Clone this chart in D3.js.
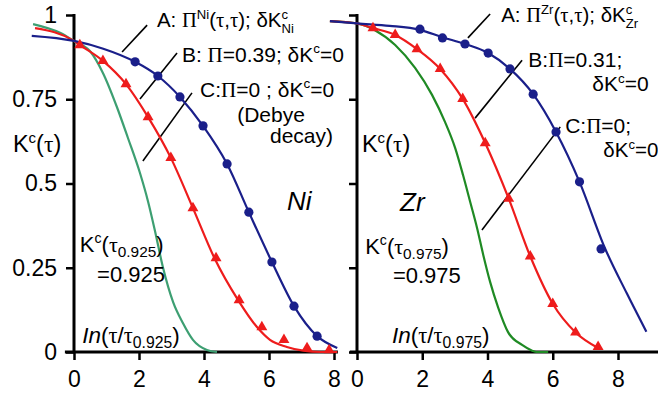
<!DOCTYPE html>
<html>
<head>
<script src="https://cdnjs.cloudflare.com/ajax/libs/d3/7.8.5/d3.min.js"></script>
<style>
  body { margin: 0; padding: 0; background: #fff; }
  svg text { font-family: "Liberation Sans", Arial, sans-serif; fill: #000; }
  .sym { font-family: "Liberation Serif", "Times New Roman", serif; }
</style>
</head>
<body>
<svg id="chart" width="658" height="396"></svg>
<script>
const xTicks = [0, 2, 4, 6, 8];
const yTicks = [0, 0.25, 0.5, 0.75, 1];

// Ni panel, [ln(tau/tau_0.925), K]
const niLineA = [[-1.3,0.938],[0,0.923],[0.9,0.900],[1.88,0.861],[2.58,0.819],[3.26,0.757],[3.97,0.671],[4.71,0.558],[5.38,0.415],[6.09,0.267],[6.77,0.136],[7.48,0.047],[8.1,0.012]];
const niDotsA = [[1.88,0.861],[2.58,0.819],[3.26,0.757],[3.97,0.671],[4.71,0.558],[5.38,0.415],[6.09,0.267],[6.77,0.136],[7.48,0.047]];
const niLineB = [[-1.2,0.961],[0,0.923],[0.18,0.911],[0.89,0.864],[1.6,0.795],[2.28,0.697],[2.98,0.576],[3.66,0.427],[4.32,0.279],[5.05,0.154],[5.63,0.074],[6.03,0.036],[6.55,0.015],[7.05,0.004],[7.6,0],[8.1,0]];
const niTriB = [[0.18,0.911],[0.89,0.864],[1.6,0.795],[2.28,0.697],[2.98,0.576],[3.66,0.427],[4.37,0.279],[5.08,0.154],[5.78,0.074],[6.46,0.036],[7.17,0.012],[7.85,0.006]];
const niLineC = [[-1.26,0.973],[-0.43,0.947],[0,0.923],[0.49,0.893],[0.89,0.828],[1.32,0.727],[1.66,0.635],[2.03,0.531],[2.28,0.446],[2.49,0.360],[2.74,0.250],[3.05,0.148],[3.35,0.086],[3.66,0.036],[4.09,0.006],[4.4,0]];

// Zr panel, [ln(tau/tau_0.975), K]
const zrLineA = [[-0.83,0.982],[0,0.975],[1.0,0.968],[1.93,0.956],[2.62,0.934],[3.31,0.914],[4.02,0.887],[4.69,0.840],[5.40,0.765],[6.1,0.653],[6.82,0.505],[7.6,0.308],[8.27,0.174],[8.87,0.06]];
const zrDotsA = [[1.93,0.958],[2.62,0.932],[3.31,0.914],[4.02,0.887],[4.69,0.840],[5.40,0.765],[6.1,0.653],[6.82,0.505],[7.48,0.306]];
const zrLineB = [[-0.83,0.982],[0,0.975],[0.49,0.961],[1.17,0.941],[1.84,0.899],[2.55,0.840],[3.24,0.751],[3.93,0.620],[4.65,0.455],[5.31,0.284],[6.0,0.143],[6.7,0.058],[7.39,0.012]];
const zrTriB = [[0.49,0.961],[1.17,0.941],[1.84,0.899],[2.55,0.840],[3.24,0.751],[3.93,0.620],[4.65,0.455],[5.31,0.284],[6.0,0.143],[6.7,0.058],[7.39,0.015]];
const zrLineC = [[-0.83,0.982],[0,0.975],[0.55,0.955],[1.17,0.911],[1.78,0.843],[2.30,0.763],[2.70,0.682],[3.01,0.605],[3.25,0.525],[3.47,0.445],[3.68,0.368],[3.87,0.288],[4.08,0.208],[4.33,0.131],[4.63,0.059],[5.06,0.021],[5.37,0.004],[5.5,0],[5.86,0]];

const blue = '#1a1f8a', red = '#ee1c1c', greenNi = '#3d9f72', greenZr = '#1f8a24';

const svg = d3.select('#chart');
const y = d3.scaleLinear().domain([0, 1]).range([352, 15]);

const panels = [
  {
    x: d3.scaleLinear().domain([0, 8]).range([74, 334]),
    axisFrom: -0.28, axisTo: 8.12, yLabels: true,
    lines: [[niLineC, greenNi], [niLineB, red], [niLineA, blue]],
    dots: niDotsA, tris: niTriB,
    leaders: [[[1.48,0.890],[2.25,0.970]], [[2.03,0.751],[3.17,0.887]], [[2.12,0.567],[3.63,0.769]]],
    texts: [
      [2.55, 0.964, 20.5, ['A: ', ['Π','g'], ['Ni','sup'], '(', ['τ','g'], ',', ['τ','g'], '); δK', [['c','Ni'],'stack']]],
      [3.32, 0.861, 21, ['B: ', ['Π','g'], '=0.39; δK', ['c','sup'], '=0']],
      [3.88, 0.757, 21, ['C:', ['Π','g'], '=0 ;  δK', ['c','sup'], '=0']],
      [5.02, 0.682, 21, ['(Debye']],
      [6.03, 0.620, 21, ['decay)']],
      [-1.88, 0.593, 23.5, ['K', ['c','sup'], '(', ['τ','g'], ')']],
      [6.55, 0.421, 26, [['Ni','i']]],
      [0.18, 0.297, 22, ['K', ['c','sup'], '(', ['τ','g'], ['0.925','sub'], ')']],
      [0.71, 0.209, 22, ['=0.925']],
      [0.25, 0.027, 22.5, [['In','i'], '(', ['τ','g'], '/', ['τ','g'], ['0.925','sub'], ')']]
    ]
  },
  {
    x: d3.scaleLinear().domain([0, 8]).range([357, 618]),
    axisFrom: -0.22, axisTo: 9.3, yLabels: false,
    lines: [[zrLineC, greenZr], [zrLineB, red], [zrLineA, blue]],
    dots: zrDotsA, tris: zrTriB,
    leaders: [[[3.40,0.932],[4.08,1.003]], [[3.62,0.694],[5.06,0.866]], [[3.83,0.362],[6.23,0.668]]],
    texts: [
      [4.42, 0.979, 20.5, ['A:  ', ['Π','g'], ['Zr','sup'], '(', ['τ','g'], ',', ['τ','g'], '); δK', [['c','Zr'],'stack']]],
      [5.25, 0.846, 21, ['B:', ['Π','g'], '=0.31;']],
      [7.21, 0.774, 21, ['δK', ['c','sup'], '=0']],
      [6.38, 0.650, 21, ['C:', ['Π','g'], '=0;']],
      [7.55, 0.579, 20.5, ['δK', ['c','sup'], '=0']],
      [0.15, 0.593, 23.5, ['K', ['c','sup'], '(', ['τ','g'], ')']],
      [1.32, 0.418, 26, [['Zr','i']]],
      [0.25, 0.29, 22, ['K', ['c','sup'], '(', ['τ','g'], ['0.975','sub'], ')']],
      [1.10, 0.205, 22, ['=0.975']],
      [1.07, 0.027, 22.5, [['In','i'], '(', ['τ','g'], '/', ['τ','g'], ['0.975','sub'], ')']]
    ]
  }
];

// text with sup / sub / stacked sup+sub pieces
function rich(x, yy, size, parts) {
  const t = svg.append('text').attr('x', x).attr('y', yy).attr('font-size', size);
  let shift = 0;
  const piece = (s, dy, fs) => {
    const ts = t.append('tspan').attr('dy', dy - shift).attr('font-size', fs).text(s);
    shift = dy;
    return ts;
  };
  parts.forEach(p => {
    const [s, kind] = typeof p === 'string' ? [p, 'n'] : p;
    if (kind === 'sup') piece(s, -0.4 * size, 0.64 * size);
    else if (kind === 'sub') piece(s, 0.22 * size, 0.7 * size);
    else if (kind === 'stack') {
      const sup = piece(s[0], -0.4 * size, 0.64 * size);
      const w = sup.node().getComputedTextLength();
      piece(s[1], 0.3 * size, 0.64 * size).attr('dx', -w);
    } else {
      const ts = piece(s, 0, size);
      if (kind === 'g') ts.attr('class', 'sym');
      if (kind === 'i') ts.attr('font-style', 'italic');
    }
  });
}

panels.forEach(p => {
  const x = p.x;

  // axes
  const ya = svg.append('g')
    .attr('transform', `translate(${x(0)},0)`)
    .call(d3.axisLeft(y).tickValues(yTicks).tickSize(8).tickSizeOuter(0).tickPadding(9)
      .tickFormat(p.yLabels ? d => d : () => ''));
  const xa = svg.append('g')
    .attr('transform', `translate(0,${y(0)})`)
    .call(d3.axisBottom(x).tickValues(xTicks).tickSize(8).tickSizeOuter(0).tickPadding(11));
  [ya, xa].forEach(a => {
    a.select('.domain').remove();
    a.selectAll('.tick line').attr('stroke', '#000').attr('stroke-width', 2.5);
    a.selectAll('.tick text').attr('font-size', 23).attr('font-family', '"Liberation Sans", Arial, sans-serif');
  });
  svg.append('line').attr('x1', x(0)).attr('x2', x(0)).attr('y1', y(1) - 1).attr('y2', y(0))
    .attr('stroke', '#000').attr('stroke-width', 3);
  svg.append('line').attr('x1', x(p.axisFrom)).attr('x2', x(p.axisTo)).attr('y1', y(0)).attr('y2', y(0))
    .attr('stroke', '#000').attr('stroke-width', 3);

  // leader lines
  p.leaders.forEach(l => {
    svg.append('line')
      .attr('x1', x(l[0][0])).attr('y1', y(l[0][1]))
      .attr('x2', x(l[1][0])).attr('y2', y(l[1][1]))
      .attr('stroke', '#000').attr('stroke-width', 1.6);
  });

  // curves
  const line = d3.line().x(d => x(d[0])).y(d => y(d[1])).curve(d3.curveMonotoneX);
  p.lines.forEach(([pts, col]) => {
    svg.append('path').attr('d', line(pts)).attr('fill', 'none')
      .attr('stroke', col).attr('stroke-width', 2.2);
  });

  svg.append('g').selectAll('path').data(p.tris).enter().append('path')
    .attr('d', d3.symbol(d3.symbolTriangle, 52))
    .attr('transform', d => `translate(${x(d[0])},${y(d[1])})`)
    .attr('fill', red);
  svg.append('g').selectAll('circle').data(p.dots).enter().append('circle')
    .attr('cx', d => x(d[0])).attr('cy', d => y(d[1])).attr('r', 4.6)
    .attr('fill', blue);

  p.texts.forEach(t => rich(x(t[0]), y(t[1]), t[2], t[3]));
});
</script>
</body>
</html>
